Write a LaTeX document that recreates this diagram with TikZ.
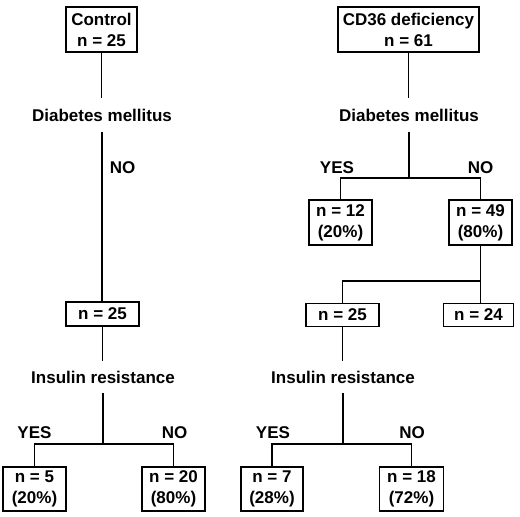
\documentclass[tikz,border=0pt]{standalone}
\usepackage{fontspec}
\setmainfont{Liberation Sans}
\begin{document}
\begin{tikzpicture}[x=1pt,y=-1pt,
  every node/.style={font=\fontsize{17}{21}\selectfont\bfseries, inner sep=0pt, align=center},
  box/.style={draw, line width=1.3pt, minimum height=#1},
  box/.default=45,
  lbl/.style={minimum height=32},
  conn/.style={line width=1.3pt}]
\useasboundingbox (0,0) rectangle (520,517);
% left column
\node[box, minimum width=71] (ctrl) at (101.5,29.5) {Control\\n = 25};
\node[lbl, minimum height=34] (dmL) at (102,115) {Diabetes mellitus};
\node (noL) at (122.5,168) {NO};
\node[box=24, minimum width=73] (n25L) at (102.5,314) {n = 25};
\node[lbl] (insL) at (103,377) {Insulin resistance};
\node (yesL) at (34.5,433) {YES};
\node (noL2) at (174.5,433) {NO};
\node[box=44, minimum width=63] (n5) at (34.5,489) {n = 5\\(20\%)};
\node[box=44, minimum width=63] (n20) at (173.5,489) {n = 20\\(80\%)};
\coordinate (jL) at (103,444);
% right column
\node[box, minimum width=141] (cd) at (408.5,29.5) {CD36 deficiency\\n = 61};
\node[lbl, minimum height=34] (dmR) at (409,115) {Diabetes mellitus};
\node (yesR1) at (337,168) {YES};
\node (noR1) at (480.5,168) {NO};
\node[box, minimum width=63] (n12) at (340.5,222.5) {n = 12\\(20\%)};
\node[box, minimum width=63] (n49) at (480.5,222.5) {n = 49\\(80\%)};
\node[box=23, minimum width=73] (n25R) at (342.5,315) {n = 25};
\node[box=23, minimum width=70] (n24) at (478.5,315) {n = 24};
\node[lbl] (insR) at (343,377) {Insulin resistance};
\node (yesR2) at (273,433) {YES};
\node (noR2) at (412,433) {NO};
\node[box=44, minimum width=62] (n7) at (272,489) {n = 7\\(28\%)};
\node[box=44, minimum width=64] (n18) at (411.5,489) {n = 18\\(72\%)};
\coordinate (jR1) at (409,178);
\coordinate (jR2) at (480.5,281);
\coordinate (jR3) at (343,444);
% connectors left
\draw[conn] (ctrl.south) -- (ctrl.south |- dmL.north);
\draw[conn] (dmL.south) -- (dmL.south |- n25L.north);
\draw[conn] (n25L.south) -- (n25L.south |- insL.north);
\draw[conn] (insL.south) -- (jL);
\draw[conn] (n5.north) |- (jL) -| (n20.north);
% connectors right
\draw[conn] (cd.south) -- (cd.south |- dmR.north);
\draw[conn] (dmR.south) -- (jR1);
\draw[conn] (n12.north) |- (jR1) -| (n49.north);
\draw[conn] (n49.south) -- (jR2) -| (n25R.north);
\draw[conn] (jR2) -- (jR2 |- n24.north);
\draw[conn] (n25R.south) -- (n25R.south |- insR.north);
\draw[conn] (insR.south) -- (jR3);
\draw[conn] (n7.north) |- (jR3) -| (n18.north);
\end{tikzpicture}
\end{document}
